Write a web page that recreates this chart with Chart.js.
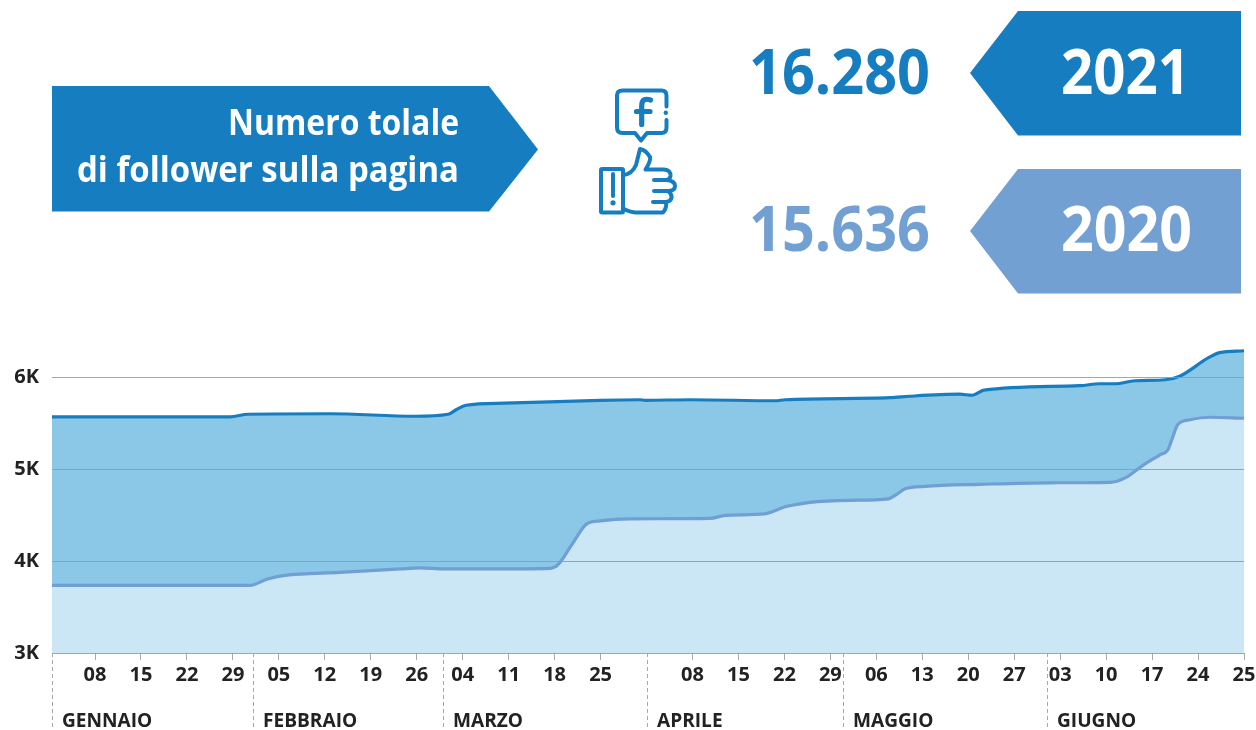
<!DOCTYPE html>
<html lang="it">
<head>
<meta charset="utf-8">
<title>Numero totale di follower</title>
<script src="https://cdn.jsdelivr.net/npm/chart.js@4/dist/chart.umd.min.js"></script>
<style>
html,body{margin:0;padding:0;background:#fff;width:1256px;height:730px;overflow:hidden}
#wrap{position:relative;width:1256px;height:730px}
#c{position:absolute;left:0;top:0}
#head{position:absolute;left:0;top:0;pointer-events:none}
#head text{font-family:"Open Sans",sans-serif;font-weight:700}
</style>
</head>
<body>
<div id="wrap">
<canvas id="c" width="1256" height="730"></canvas>
<svg id="head" width="1256" height="300" viewBox="0 0 1256 300">
  <polygon points="52,86 489,86 538,149.5 489,211.5 52,211.5" fill="#167EC0"/>
  <text x="459" y="135" text-anchor="end" font-size="35" fill="#fff" textLength="231" lengthAdjust="spacingAndGlyphs">Numero tolale</text>
  <text x="459" y="182" text-anchor="end" font-size="35" fill="#fff" textLength="382" lengthAdjust="spacingAndGlyphs">di follower sulla pagina</text>
  <polygon points="1018,11 1241,11 1241,135.5 1018,135.5 970,73" fill="#167EC0"/>
  <polygon points="1018,169 1241,169 1241,293.5 1018,293.5 970,231" fill="#73A0D2"/>
  <text x="749" y="94" font-size="63" fill="#167EC0" textLength="181" lengthAdjust="spacingAndGlyphs">16.280</text>
  <text x="749" y="251" font-size="63" fill="#73A0D2" textLength="181" lengthAdjust="spacingAndGlyphs">15.636</text>
  <text x="1061" y="94" font-size="63" fill="#fff" textLength="129" lengthAdjust="spacingAndGlyphs">2021</text>
  <text x="1061" y="251" font-size="63" fill="#fff" textLength="131" lengthAdjust="spacingAndGlyphs">2020</text>
  <g fill="none" stroke="#167EC0" stroke-width="4" stroke-linecap="round" stroke-linejoin="round">
    <path d="M666.5 106.5V95.5Q666.5 90.5 661.5 90.5H622.5Q617 90.5 617 95.5V127.5Q617 133 622.5 133H635L641 140.5L647 133H661.5Q666.5 133 666.5 127.5V120"/>
    <path d="M650.5 100Q641.7 97 641.7 106V124.5M636.5 111.5H650" stroke-width="5.2"/>
    <rect x="601" y="169" width="22" height="43.5" rx="1"/>
    <path d="M613 174V196"/>
    <path d="M623.5 175Q632 174 636 165L640 149Q646 150 650 157Q651 161 645.5 169.5H664Q671 170 670.5 176Q670 179 667 180H654M667 180Q675 181 675 186Q675 191 668 191H654M668 191Q672 194 671.5 198Q670.5 201.5 666 202H653M666 202Q667 208 663 212.5H636Q631 212.5 624 209"/>
  </g>
  <circle cx="665.8" cy="112.8" r="2.2" fill="#167EC0"/>
  <circle cx="613" cy="202.8" r="2.6" fill="#167EC0"/>
</svg>
</div>
<script>
const tickDays = [8,15,22,29,36,43,50,57,64,71,78,85,99,106,113,120,127,134,141,148,155,162,169,176,183];
const tickLabels = ["08","15","22","29","05","12","19","26","04","11","18","25","08","15","22","29","06","13","20","27","03","10","17","24","25"];
const monthDays = [1.45,32,61,92,122,153];
const monthNames = ["GENNAIO","FEBBRAIO","MARZO","APRILE","MAGGIO","GIUGNO"];
const yTicks = [3000,4000,5000,6000];

const days2021 = [1.45,28.6,31.3,43.8,56.7,61.8,63,64.5,70.4,84.9,91,91.8,98.6,111.6,113.1,129.1,132.1,139.7,141.6,143.4,158,161,163.3,166.4,171,173.2,177.6,179.3,183];
const values2021 = [5574,5574,5602,5607,5580,5602,5651,5700,5722,5754,5760,5754,5760,5749,5760,5782,5798,5820,5809,5864,5913,5934,5934,5967,5978,6016,6218,6273,6294];
const days2020 = [1.45,31.6,34.3,36.9,45.3,54.5,57.5,61.3,69.7,77.3,78.5,80.6,82.9,84.9,89.5,101.7,104,110,113.1,116.9,123,128.8,130,131.4,134.4,142.8,153.4,162.6,164.9,167.5,170.2,171.4,172,172.9,174.8,177.8,183];
const values2020 = [3736,3736,3807,3845,3878,3916,3927,3916,3916,3922,3960,4178,4407,4440,4462,4467,4500,4516,4593,4642,4664,4680,4724,4789,4816,4838,4855,4860,4909,5040,5160,5214,5324,5487,5542,5569,5558];

const toPoints = (xs, ys) => xs.map((x, i) => ({x, y: ys[i]}));
const FONT = '"Open Sans", sans-serif';

const monthPlugin = {
  id: 'months',
  afterDraw(chart) {
    const {ctx} = chart, sx = chart.scales.x, base = chart.scales.y.getPixelForValue(3000);
    ctx.save();
    monthDays.forEach((d, i) => {
      const px = Math.round(sx.getPixelForValue(d)) + 0.5;
      ctx.strokeStyle = '#a8a8a8';
      ctx.lineWidth = 1;
      ctx.setLineDash([4, 3]);
      ctx.beginPath(); ctx.moveTo(px, base); ctx.lineTo(px, 730); ctx.stroke();
      ctx.setLineDash([]);
      ctx.fillStyle = '#222';
      ctx.font = '700 20px ' + FONT;
      ctx.textAlign = 'left';
      ctx.textBaseline = 'alphabetic';
      ctx.save();
      ctx.translate(px + 9.5, 726.5);
      ctx.scale(0.955, 1);
      ctx.fillText(monthNames[i], 0, 0);
      ctx.restore();
    });
    ctx.restore();
  }
};

new Chart(document.getElementById('c'), {
  type: 'line',
  data: {
    datasets: [
      {label: '2020', data: toPoints(days2020, values2020), borderColor: '#6F9FD3', backgroundColor: '#CBE6F5', borderWidth: 3.2, fill: 'start', pointRadius: 0, cubicInterpolationMode: 'monotone', order: 1},
      {label: '2021', data: toPoints(days2021, values2021), borderColor: '#167EC0', backgroundColor: '#8BC8E7', borderWidth: 3.2, fill: 'start', pointRadius: 0, cubicInterpolationMode: 'monotone', order: 2}
    ]
  },
  options: {
    responsive: false,
    animation: false,
    events: [],
    layout: {padding: {top: 341, right: 12, left: 0, bottom: 0}},
    plugins: {legend: {display: false}, title: {display: false}, tooltip: {enabled: false}},
    scales: {
      x: {
        type: 'linear', min: 1.45, max: 183,
        afterFit(s) { s.height = 77; s.paddingRight = 0; s.paddingLeft = 0; },
        afterBuildTicks(s) { s.ticks = tickDays.map(value => ({value})); },
        border: {display: false},
        grid: {drawOnChartArea: false, drawTicks: true, tickLength: 7, color: '#aaa', lineWidth: 1},
        ticks: {
          autoSkip: false, maxRotation: 0, minRotation: 0, padding: 3,
          color: '#222', font: {family: FONT, size: 20, weight: '700'},
          callback(v) { return tickLabels[tickDays.indexOf(v)]; }
        }
      },
      y: {
        min: 3000, max: 6400,
        afterFit(s) { s.width = 52; },
        afterBuildTicks(s) { s.ticks = yTicks.map(value => ({value})); },
        border: {display: false},
        grid: {z: 1, color: 'rgba(150,150,150,0.85)', lineWidth: 1, drawTicks: false},
        ticks: {
          padding: 13, color: '#222', font: {family: FONT, size: 20, weight: '700'},
          callback(v) { return (v / 1000) + 'K'; }
        }
      }
    }
  },
  plugins: [monthPlugin]
});
</script>
</body>
</html>
